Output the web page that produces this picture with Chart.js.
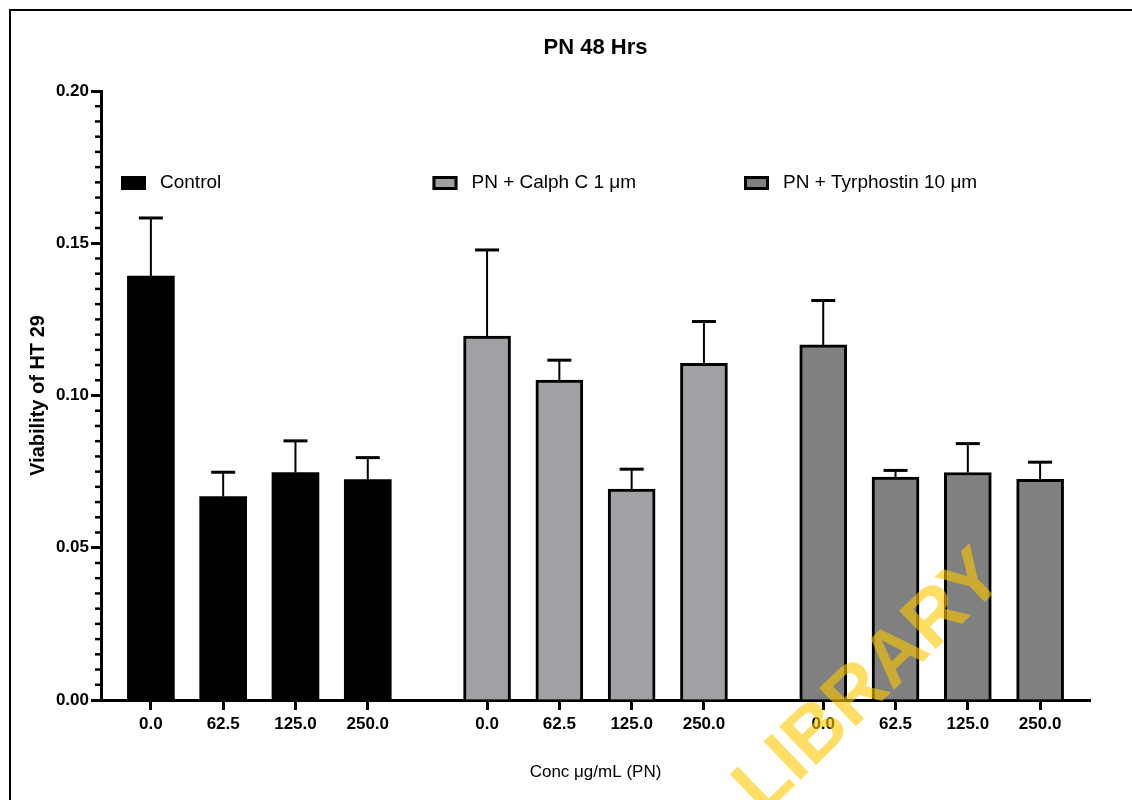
<!DOCTYPE html>
<html>
<head>
<meta charset="utf-8">
<title>PN 48 Hrs</title>
<script src="https://cdn.jsdelivr.net/npm/chart.js@4.4.0/dist/chart.umd.min.js"></script>
<style>
  html, body { margin: 0; padding: 0; background: #fff; }
  #wrap { width: 1132px; height: 800px; }
</style>
</head>
<body>
<div id="wrap"><canvas id="viabilityChart" width="1132" height="800"></canvas></div>
<script>
// values
const concLabels = ["0.0", "62.5", "125.0", "250.0"];
const seriesNames = ["Control", "PN + Calph C 1 \u03bcm", "PN + Tyrphostin 10 \u03bcm"];
const controlMean = [0.1392, 0.0668, 0.0747, 0.0724];
const controlErr = [0.0191, 0.0080, 0.0104, 0.0072];
const calphMean = [0.1195, 0.1051, 0.0693, 0.1106];
const calphErr = [0.0283, 0.0065, 0.0065, 0.0137];
const tyrphMean = [0.1166, 0.0732, 0.0747, 0.0725];
const tyrphErr = [0.0146, 0.0022, 0.0095, 0.0056];
const yTicks = [0, 0.05, 0.1, 0.15, 0.2];

const FONT = '"Liberation Sans", Arial, sans-serif';
const GROUP_STEP = 4.65;

const xPos = (g, i) => g * GROUP_STEP + i;
const toPoints = (vals, g) => vals.map((v, i) => ({ x: xPos(g, i), y: v }));
const allX = [0, 1, 2].flatMap((g) => concLabels.map((_, i) => xPos(g, i)));

const framePlugin = {
  id: "frame",
  beforeDraw(chart) {
    const { ctx, width, height } = chart;
    ctx.save();
    ctx.fillStyle = "#fff";
    ctx.fillRect(0, 0, width, height);
    ctx.strokeStyle = "#000";
    ctx.lineWidth = 2;
    ctx.beginPath();
    ctx.moveTo(10, height);
    ctx.lineTo(10, 10);
    ctx.lineTo(width, 10);
    ctx.stroke();
    ctx.restore();
  },
};

const titlePlugin = {
  id: "plotTitle",
  afterDraw(chart) {
    const { ctx, chartArea } = chart;
    ctx.save();
    ctx.fillStyle = "#000";
    ctx.font = "bold 22px " + FONT;
    ctx.textAlign = "center";
    ctx.textBaseline = "middle";
    ctx.fillText("PN 48 Hrs", (chartArea.left + chartArea.right) / 2, 48);
    ctx.restore();
  },
};

const minorTickPlugin = {
  id: "minorTicks",
  afterDraw(chart) {
    const { ctx, scales: { y } } = chart;
    ctx.save();
    ctx.strokeStyle = "#000";
    ctx.lineWidth = 2.5;
    for (let k = 1; k < 40; k++) {
      if (k % 10 === 0) continue;
      const py = y.getPixelForValue(k * 0.005);
      ctx.beginPath();
      ctx.moveTo(y.right - 6, py);
      ctx.lineTo(y.right, py);
      ctx.stroke();
    }
    ctx.restore();
  },
};

const errorBarPlugin = {
  id: "errorBars",
  afterDatasetsDraw(chart) {
    const { ctx, scales: { y } } = chart;
    ctx.save();
    ctx.strokeStyle = "#000";
    chart.data.datasets.forEach((ds, di) => {
      const meta = chart.getDatasetMeta(di);
      meta.data.forEach((bar, i) => {
        const top = y.getPixelForValue(ds.data[i].y + ds.errors[i]);
        ctx.lineWidth = 2;
        ctx.beginPath();
        ctx.moveTo(bar.x, bar.y);
        ctx.lineTo(bar.x, top);
        ctx.stroke();
        ctx.lineWidth = 3;
        ctx.beginPath();
        ctx.moveTo(bar.x - 12, top);
        ctx.lineTo(bar.x + 12, top);
        ctx.stroke();
      });
    });
    ctx.restore();
  },
};

const legendPlugin = {
  id: "insideLegend",
  afterDraw(chart) {
    const { ctx, chartArea } = chart;
    ctx.save();
    ctx.font = "19px " + FONT;
    ctx.textBaseline = "middle";
    chart.data.datasets.forEach((ds, i) => {
      const x = chartArea.left + 20 + i * 311.5;
      const yc = 183;
      ctx.fillStyle = ds.backgroundColor;
      ctx.fillRect(x, yc - 7, 25, 14);
      if (ds.borderWidth) {
        ctx.strokeStyle = "#000";
        ctx.lineWidth = 3;
        ctx.strokeRect(x + 1.5, yc - 5.5, 22, 11);
      }
      ctx.fillStyle = "#000";
      ctx.fillText(ds.label, x + 39, yc);
    });
    ctx.restore();
  },
};

const watermarkPlugin = {
  id: "watermark",
  afterDraw(chart) {
    const { ctx } = chart;
    ctx.save();
    ctx.translate(763, 816);
    ctx.rotate((-44 * Math.PI) / 180);
    ctx.font = "bold 77px " + FONT;
    ctx.fillStyle = "rgba(255, 200, 0, 0.6)";
    ctx.fillText("LIBRARY", 0, 0);
    ctx.restore();
  },
};

new Chart(document.getElementById("viabilityChart"), {
  type: "bar",
  data: {
    datasets: [
      {
        label: seriesNames[0],
        data: toPoints(controlMean, 0),
        errors: controlErr,
        backgroundColor: "#000000",
        borderWidth: 0,
      },
      {
        label: seriesNames[1],
        data: toPoints(calphMean, 1),
        errors: calphErr,
        backgroundColor: "#a1a0a5",
        borderColor: "#000",
        borderWidth: 3,
      },
      {
        label: seriesNames[2],
        data: toPoints(tyrphMean, 2),
        errors: tyrphErr,
        backgroundColor: "#808080",
        borderColor: "#000",
        borderWidth: 3,
      },
    ],
  },
  options: {
    responsive: false,
    animation: false,
    grouped: false,
    barThickness: 47,
    layout: { padding: { top: 91, right: 42, bottom: 0, left: 0 } },
    plugins: {
      legend: { display: false },
      tooltip: { enabled: false },
    },
    scales: {
      x: {
        type: "linear",
        min: -0.69,
        max: 12.99,
        offset: false,
        afterFit(scale) {
          scale.height = 100;
        },
        afterBuildTicks(scale) {
          scale.ticks = allX.map((v) => ({ value: v }));
        },
        border: { display: true, color: "#000", width: 3 },
        grid: {
          offset: false,
          drawOnChartArea: false,
          tickLength: 10,
          tickWidth: 3,
          tickColor: "#000",
        },
        ticks: {
          autoSkip: false,
          maxRotation: 0,
          padding: 4,
          color: "#000",
          font: { family: FONT, size: 17, weight: "bold" },
          callback: (v, i) => concLabels[i % concLabels.length],
        },
        title: {
          display: true,
          text: "Conc \u03bcg/mL (PN)",
          color: "#000",
          font: { family: FONT, size: 17 },
          padding: { bottom: 17 },
        },
      },
      y: {
        min: 0,
        max: 0.2,
        afterFit(scale) {
          scale.width = 101;
        },
        afterBuildTicks(scale) {
          scale.ticks = yTicks.map((v) => ({ value: v }));
        },
        border: { display: true, color: "#000", width: 3 },
        grid: {
          drawOnChartArea: false,
          tickLength: 10,
          tickWidth: 3,
          tickColor: "#000",
        },
        ticks: {
          padding: 2,
          color: "#000",
          font: { family: FONT, size: 17, weight: "bold" },
          callback: (v) => v.toFixed(2),
        },
        title: {
          display: true,
          text: "Viability of HT 29",
          color: "#000",
          font: { family: FONT, size: 20, weight: "bold" },
          padding: { top: 26 },
        },
      },
    },
  },
  plugins: [framePlugin, titlePlugin, minorTickPlugin, errorBarPlugin, legendPlugin, watermarkPlugin],
});
</script>
</body>
</html>
